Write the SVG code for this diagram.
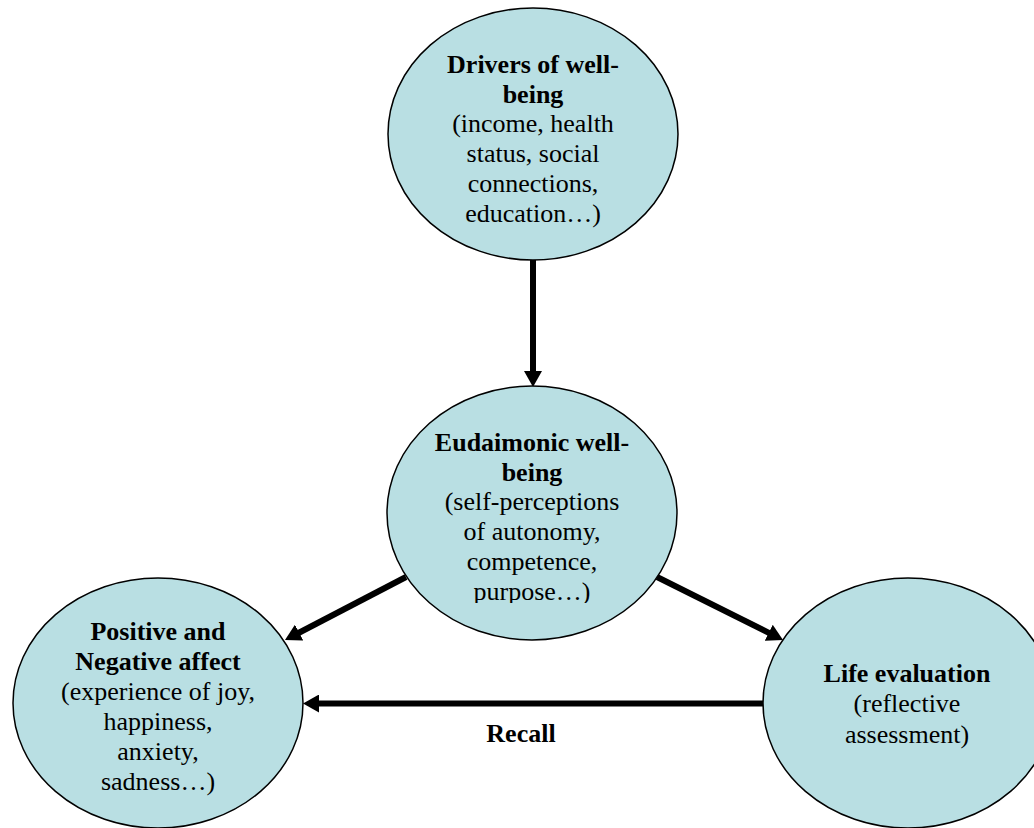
<svg xmlns="http://www.w3.org/2000/svg" width="1034" height="828" viewBox="0 0 1034 828">
<defs>
<marker id="ah" markerUnits="userSpaceOnUse" markerWidth="16" markerHeight="18" viewBox="0 0 16 18" refX="4" refY="9" orient="auto">
<path d="M0,0 L16,9 L0,18 z" fill="#000"/>
</marker>
<clipPath id="clipMid"><rect x="380" y="380" width="300" height="223"/></clipPath>
</defs>
<style>
.node{fill:#b9dfe3;stroke:#000;stroke-width:1.5}
.conn{stroke:#000;stroke-width:6;fill:none;marker-end:url(#ah)}
text{font-family:"Liberation Serif","Times New Roman",serif;font-size:26px;fill:#000;text-anchor:middle}
.b{font-weight:bold}
</style>
<rect width="1034" height="828" fill="#fff"/>
<g id="connectors">
<line class="conn" x1="533" y1="260" x2="533" y2="375"/>
<line class="conn" x1="406" y1="577" x2="295.6" y2="634.5"/>
<line class="conn" x1="657" y1="577" x2="772.3" y2="634.6"/>
<line class="conn" x1="763" y1="703.5" x2="315" y2="703.5"/>
</g>
<g id="drivers">
<ellipse class="node" cx="533" cy="134" rx="145" ry="126"/>
<text class="b" x="533" y="73">Drivers of well-</text>
<text class="b" x="533" y="103">being</text>
<text x="533" y="132">(income, health</text>
<text x="533" y="162">status, social</text>
<text x="533" y="192">connections,</text>
<text x="533" y="222">education…)</text>
</g>
<g id="eudaimonic">
<ellipse class="node" cx="532" cy="513" rx="145" ry="127"/>
<g clip-path="url(#clipMid)">
<text class="b" x="532" y="451">Eudaimonic well-</text>
<text class="b" x="532" y="481">being</text>
<text x="532" y="510">(self-perceptions</text>
<text x="532" y="540">of autonomy,</text>
<text x="532" y="570">competence,</text>
<text x="532" y="600">purpose…)</text>
</g>
</g>
<g id="affect">
<ellipse class="node" cx="158" cy="703" rx="145" ry="125"/>
<text class="b" x="158" y="640">Positive and</text>
<text class="b" x="158" y="670">Negative affect</text>
<text x="158" y="700">(experience of joy,</text>
<text x="158" y="730">happiness,</text>
<text x="158" y="760">anxiety,</text>
<text x="158" y="790">sadness…)</text>
</g>
<g id="life">
<ellipse class="node" cx="908" cy="703" rx="145" ry="125"/>
<text class="b" x="907" y="682">Life evaluation</text>
<text x="907" y="712">(reflective</text>
<text x="907" y="743">assessment)</text>
</g>
<g id="recall-label">
<text class="b" x="521" y="742">Recall</text>
</g>
</svg>
